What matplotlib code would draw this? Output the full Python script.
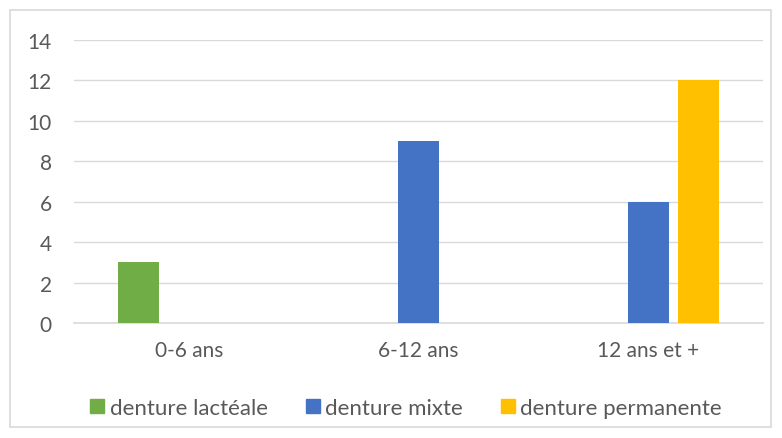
import matplotlib.pyplot as plt
import matplotlib.patches as mpatches
import numpy as np

# data
categories = ['0-6 ans', '6-12 ans', '12 ans et +']
series_names = ['denture lactéale', 'denture mixte', 'denture permanente']
lacteale = [3, 0, 0]
mixte = [0, 9, 6]
permanente = [0, 0, 12]
colors = ['#70AD47', '#4472C4', '#FFC000']
y_ticks = [0, 2, 4, 6, 8, 10, 12, 14]

plt.rcParams['font.family'] = ['Lato', 'DejaVu Sans']
text_col = '#595959'
grid_col = '#D9D9D9'

fig = plt.figure(figsize=(7.82, 4.39), dpi=100)
ax = fig.add_axes([74 / 782, 1 - 324 / 439, (763 - 74) / 782, (324 - 41) / 439])

x = np.arange(len(categories))
width = 0.178
offsets = [-0.22, 0.0, 0.22]
for vals, off, col, name in zip([lacteale, mixte, permanente], offsets, colors, series_names):
    ax.bar(x + off, vals, width=width, color=col, label=name, zorder=3)

ax.set_xlim(-0.5, len(categories) - 0.5)
ax.set_ylim(0, 14)
ax.set_yticks(y_ticks)
ax.set_xticks(x)
ax.set_xticklabels(categories)
ax.tick_params(axis='both', length=0, colors=text_col, labelsize=15)
ax.tick_params(axis='y', pad=16)
ax.tick_params(axis='x', pad=12)

ax.grid(axis='y', color=grid_col, linewidth=1, zorder=0)
for s in ['top', 'right', 'left']:
    ax.spines[s].set_visible(False)
ax.spines['bottom'].set_color(grid_col)
ax.spines['bottom'].set_linewidth(1.2)

# legend at the bottom
handles = [mpatches.Patch(color=c) for c in colors]
fig.legend(handles, series_names, loc='center', bbox_to_anchor=(406 / 782, 1 - 409 / 439),
           ncol=3, frameon=False, fontsize=16, labelcolor=text_col,
           handlelength=0.63, handleheight=0.63, handletextpad=0.25, columnspacing=1.7)

# chart area border
fig.patches.append(mpatches.Rectangle((10 / 782, 1 - 428 / 439), 761 / 782, 417 / 439,
                                      transform=fig.transFigure, fill=False,
                                      edgecolor=grid_col, linewidth=1.2))

fig.savefig('out.png', dpi=100)
